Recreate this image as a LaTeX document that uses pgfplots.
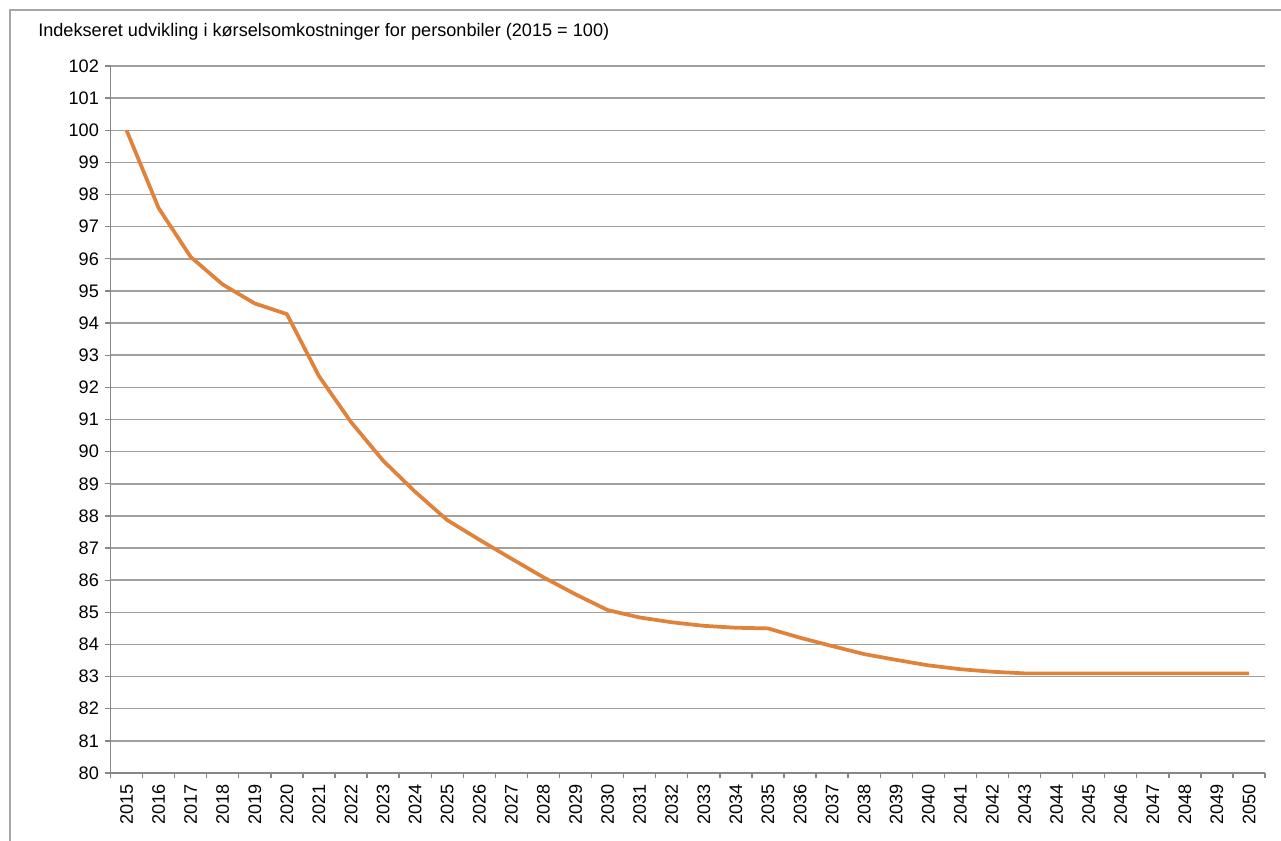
\documentclass[border=0pt]{standalone}
\usepackage{pgfplots}
\pgfplotsset{compat=1.18}
\usepackage{fontspec}
\setmainfont{Liberation Sans}
\definecolor{lineorange}{HTML}{E0823A}
\definecolor{gridgray}{HTML}{A0A0A0}
\definecolor{axisgray}{HTML}{878787}
\definecolor{framegray}{HTML}{A6A6A6}
\begin{document}
\fontsize{13.6}{15}\selectfont
\begin{tikzpicture}
\useasboundingbox (0pt,0pt) rectangle (960.75pt,630pt);
\draw[framegray, line width=1.2pt] (7.5pt,-4pt) -- (7.5pt,622.5pt) -- (970pt,622.5pt);
\node[anchor=west, inner sep=0pt] at (28.5pt,606pt) {Indekseret udvikling i kørselsomkostninger for personbiler (2015 = 100)};
\begin{axis}[
  at={(82.875pt,50.25pt)}, anchor=south west,
  scale only axis,
  width=865.9pt, height=530.25pt,
  xmin=-0.5, xmax=35.5,
  ymin=80, ymax=102,
  ytick={80,81,...,102},
  xtick={0,...,35},
  xticklabels={2015,2016,2017,2018,2019,2020,2021,2022,2023,2024,2025,2026,2027,2028,2029,2030,2031,2032,2033,2034,2035,2036,2037,2038,2039,2040,2041,2042,2043,2044,2045,2046,2047,2048,2049,2050},
  minor xtick={-0.5,0.5,...,35.5},
  axis lines*=left,
  axis line style={axisgray, line width=1.4pt},
  ymajorgrids,
  major grid style={gridgray, line width=1.1pt},
  tick align=outside,
  tick style={axisgray, line width=1pt},
  major tick length=4pt,
  minor tick length=4pt,
  xtick style={draw=none},
  minor x tick style={axisgray, draw=axisgray, line width=1pt},
  xticklabel style={rotate=90, anchor=east, font=\fontsize{13.6}{15}\selectfont},
  yticklabel style={font=\fontsize{13.6}{15}\selectfont},
  /pgf/number format/assume math mode=true,
  clip=false,
]
\addplot[lineorange, line width=2.8pt, line join=round] coordinates {
(0,100) (1,97.58) (2,96.06) (3,95.2) (4,94.61) (5,94.28)
(6,92.35) (7,90.92) (8,89.72) (9,88.75) (10,87.87) (11,87.26)
(12,86.67) (13,86.09) (14,85.56) (15,85.07) (16,84.84) (17,84.69)
(18,84.58) (19,84.52) (20,84.50) (21,84.21) (22,83.95) (23,83.70)
(24,83.52) (25,83.35) (26,83.23) (27,83.15) (28,83.10) (29,83.10)
(30,83.10) (31,83.10) (32,83.10) (33,83.10) (34,83.10) (35,83.10)
};
\end{axis}
\end{tikzpicture}
\end{document}
